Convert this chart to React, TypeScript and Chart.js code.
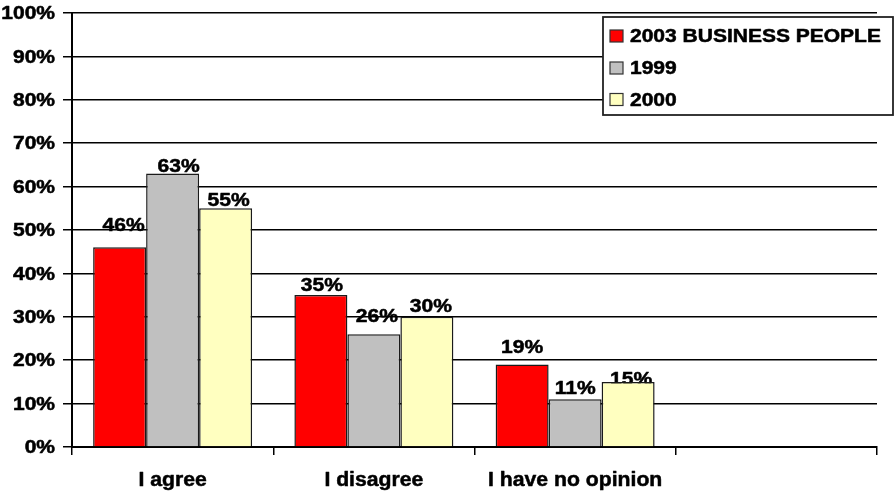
import React, { useEffect, useRef } from "react";
import { Chart, registerables } from "chart.js";

Chart.register(...registerables);

// Survey answers, in percent
const categories = ["I agree", "I disagree", "I have no opinion", ""];
const seriesNames = ["2003 BUSINESS PEOPLE", "1999", "2000"];
const values2003 = [46, 35, 19, null];
const values1999 = [63, 26, 11, null];
const values2000 = [55, 30, 15, null];
const yTickValues = [0, 10, 20, 30, 40, 50, 60, 70, 80, 90, 100];

const seriesColors = ["#FF0000", "#C0C0C0", "#FFFFC0"];

// Hand placement of the value labels: [dx, lift above bar top] per series / category
const labelNudge: number[][][] = [
  [[4, 16], [1, 4], [0, 12]],
  [[6, 2], [3, 12], [0, 5]],
  [[3, 2], [4, 5], [3, -3]],
];

const FONT = '"Liberation Sans", Arial, Helvetica, sans-serif';

// Bold text, widened horizontally by sx, with a hairline stroke for extra weight
function wideText(
  ctx: CanvasRenderingContext2D,
  text: string,
  x: number,
  y: number,
  align: CanvasTextAlign,
  size: number,
  sx: number
) {
  ctx.save();
  ctx.font = `bold ${size}px ${FONT}`;
  ctx.fillStyle = "#000";
  ctx.strokeStyle = "#000";
  ctx.lineWidth = 0.5;
  ctx.lineJoin = "round";
  ctx.textAlign = align;
  ctx.textBaseline = "alphabetic";
  ctx.translate(x, y);
  ctx.scale(sx, 1);
  ctx.fillText(text, 0, 0);
  ctx.strokeText(text, 0, 0);
  ctx.restore();
}

const axisText = {
  id: "axisText",
  afterDraw(chart: any) {
    const ctx = chart.ctx as CanvasRenderingContext2D;
    const ys = chart.scales.y;
    const xs = chart.scales.x;
    yTickValues.forEach((v) => {
      const py = ys.getPixelForValue(v);
      wideText(ctx, `${v}%`, 55, py + 6.2, "right", 17.5, 1.2);
    });
    categories.forEach((c, i) => {
      if (!c) return;
      const px = xs.getPixelForValue(i);
      wideText(ctx, c, px, 486, "center", 20, 1.06);
    });
  },
};

const valueLabels = {
  id: "valueLabels",
  beforeDatasetsDraw(chart: any) {
    const ctx = chart.ctx as CanvasRenderingContext2D;
    chart.data.datasets.forEach((ds: any, di: number) => {
      const meta = chart.getDatasetMeta(di);
      meta.data.forEach((bar: any, i: number) => {
        const v = ds.data[i];
        if (v == null) return;
        const [dx, lift] = labelNudge[di][i];
        wideText(ctx, `${v}%`, bar.x + dx, bar.y - lift, "center", 18, 1.17);
      });
    });
  },
};

const boxLegend = {
  id: "boxLegend",
  afterDraw(chart: any) {
    const ctx = chart.ctx as CanvasRenderingContext2D;
    const left = 603;
    const top = 17;
    const right = 893;
    const bottom = 115;
    ctx.save();
    ctx.fillStyle = "#fff";
    ctx.fillRect(left, top, right - left, bottom - top);
    ctx.strokeStyle = "#222";
    ctx.lineWidth = 1.8;
    ctx.strokeRect(left, top, right - left, bottom - top);
    ctx.restore();
    const rowY = [36, 68, 99.5];
    chart.data.datasets.forEach((ds: any, i: number) => {
      const cy = rowY[i];
      ctx.save();
      ctx.fillStyle = ds.backgroundColor;
      ctx.fillRect(610, cy - 6, 13, 12);
      ctx.strokeStyle = "#333";
      ctx.lineWidth = 1.2;
      ctx.strokeRect(610, cy - 6, 13, 12);
      ctx.restore();
      wideText(ctx, ds.label, 630, cy + 6.2, "left", 17.5, 1.2);
    });
  },
};

export default function App() {
  const canvasRef = useRef<HTMLCanvasElement | null>(null);

  useEffect(() => {
    if (!canvasRef.current) return;
    const seriesValues = [values2003, values1999, values2000];
    const chart = new Chart(canvasRef.current, {
      type: "bar",
      data: {
        labels: categories,
        datasets: seriesNames.map((name, i) => ({
          label: name,
          data: seriesValues[i],
          backgroundColor: seriesColors[i],
          borderColor: "#1a1a1a",
          borderWidth: 1.5,
          categoryPercentage: 0.79,
          barPercentage: 1.0,
        })),
      },
      options: {
        animation: false,
        responsive: true,
        maintainAspectRatio: false,
        layout: { padding: { top: 13, right: 17, left: 0, bottom: 0 } },
        plugins: {
          legend: { display: false },
          tooltip: { enabled: false },
        },
        scales: {
          x: {
            ticks: { display: false },
            grid: {
              offset: true,
              drawOnChartArea: false,
              drawTicks: true,
              tickLength: 8,
              color: "#000",
              lineWidth: 1.5,
            },
            border: { display: true, color: "#000", width: 2 },
            afterFit: (scale: any) => {
              scale.height = 46;
            },
          },
          y: {
            min: 0,
            max: 100,
            ticks: { display: false, stepSize: 10 },
            grid: {
              color: "#000",
              lineWidth: 1.5,
              drawTicks: true,
              tickLength: 9,
            },
            border: { display: true, color: "#000", width: 2 },
            afterFit: (scale: any) => {
              scale.width = 72;
            },
          },
        },
      },
      plugins: [valueLabels, axisText, boxLegend],
    });
    return () => chart.destroy();
  }, []);

  return (
    <div
      style={{
        position: "fixed",
        left: 0,
        top: 0,
        width: 894,
        height: 493,
        background: "#fff",
      }}
    >
      <canvas ref={canvasRef} />
    </div>
  );
}
